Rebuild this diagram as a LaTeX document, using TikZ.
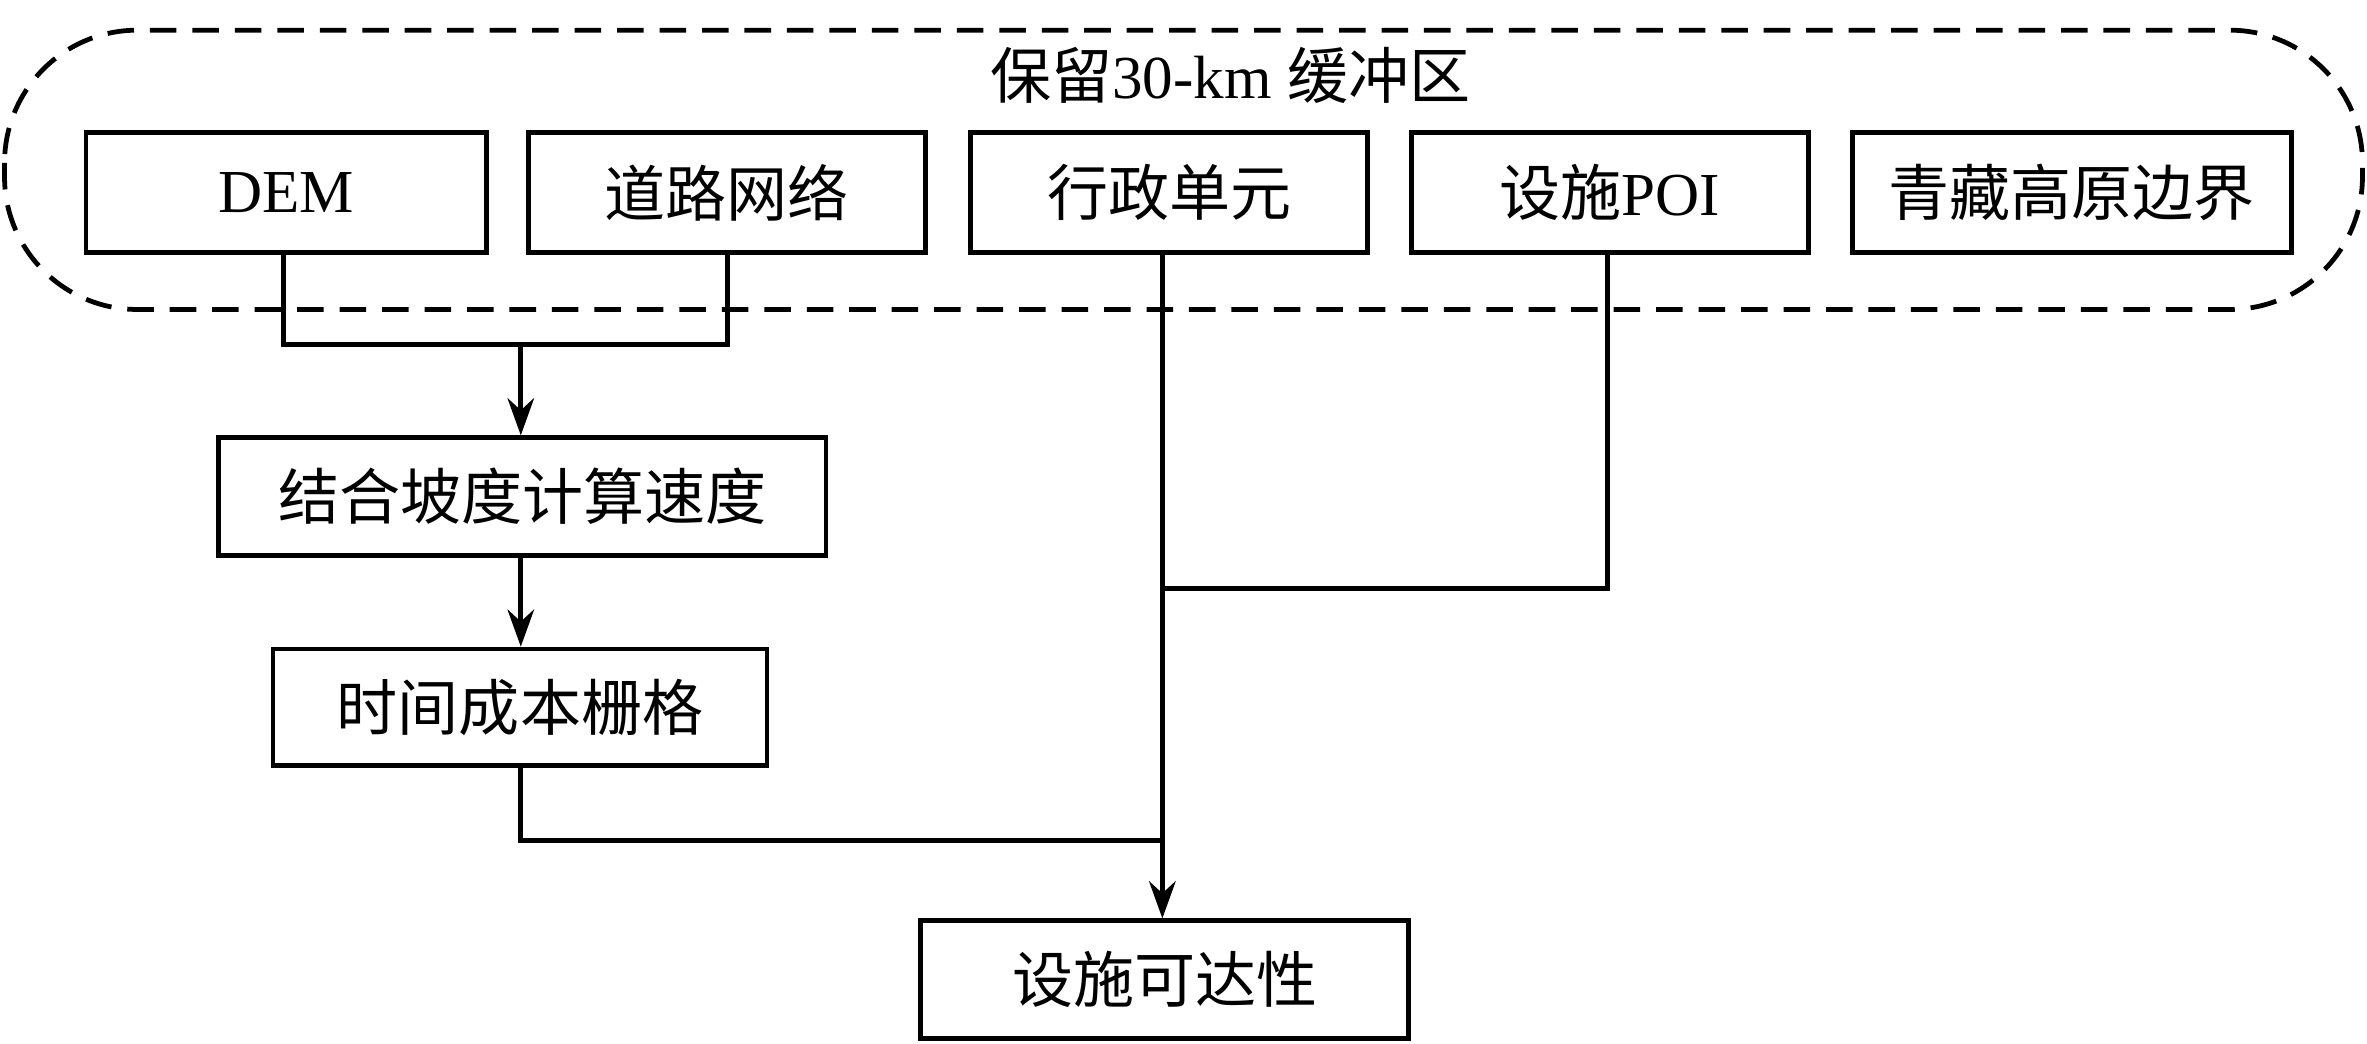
\documentclass[tikz,border=0pt]{standalone}
\usepackage{fontspec}
\setmainfont{Liberation Serif}
\newfontfamily\cjk{Noto Sans CJK SC}
\usetikzlibrary{arrows.meta}
\begin{document}
\begin{tikzpicture}[x=0.01cm,y=-0.01cm,
  box/.style={draw,line width=0.9pt,inner sep=0pt,font=\fontsize{11.5}{13}\selectfont},
  ln/.style={line width=0.9pt},
  arr/.style={ln,-{Stealth[length=7pt,width=5pt]}}]
\useasboundingbox (0,0) rectangle (1568,691);
\draw[ln,dashed,dash pattern=on 5pt off 3pt,rounded corners=25] (3,20) rectangle (1565,205);
\node[font=\fontsize{11.5}{13}\selectfont] (title) at (815,50) {{\cjk 保留}30-km {\cjk 缓冲区}};
\node[box,minimum width=2.65cm,minimum height=0.79cm] (dem) at (189.5,127.5) {DEM};
\node[box,minimum width=2.63cm,minimum height=0.79cm] (road) at (481.5,127.5) {\cjk 道路网络};
\node[box,minimum width=2.63cm,minimum height=0.79cm] (adm) at (774.5,127.5) {\cjk 行政单元};
\node[box,minimum width=2.63cm,minimum height=0.79cm] (poi) at (1066.5,127.5) {{\cjk 设施}POI};
\node[box,minimum width=2.91cm,minimum height=0.79cm] (qz) at (1372.5,127.5) {\cjk 青藏高原边界};
\node[box,minimum width=4.02cm,minimum height=0.78cm] (spd) at (346,329) {\cjk 结合坡度计算速度};
\node[box,minimum width=3.27cm,minimum height=0.77cm] (cost) at (344.5,468.5) {\cjk 时间成本栅格};
\node[box,minimum width=3.23cm,minimum height=0.78cm] (acc) at (771.5,649) {\cjk 设施可达性};
\coordinate (j1) at (345,228);
\coordinate (j2) at (770,390);
\coordinate (j3) at (770,557);
\draw[ln] (dem.south -| 188,0) |- (j1) -| (road.south -| 482,0);
\draw[arr] (j1) -- (spd.north -| j1);
\draw[arr] (spd.south -| j1) -- (cost.north -| j1);
\draw[ln] (poi.south -| 1065,0) |- (j2);
\draw[ln] (cost.south -| j1) |- (j3);
\draw[arr] (adm.south -| 770,0) -- (acc.north -| 770,0);
\end{tikzpicture}
\end{document}
